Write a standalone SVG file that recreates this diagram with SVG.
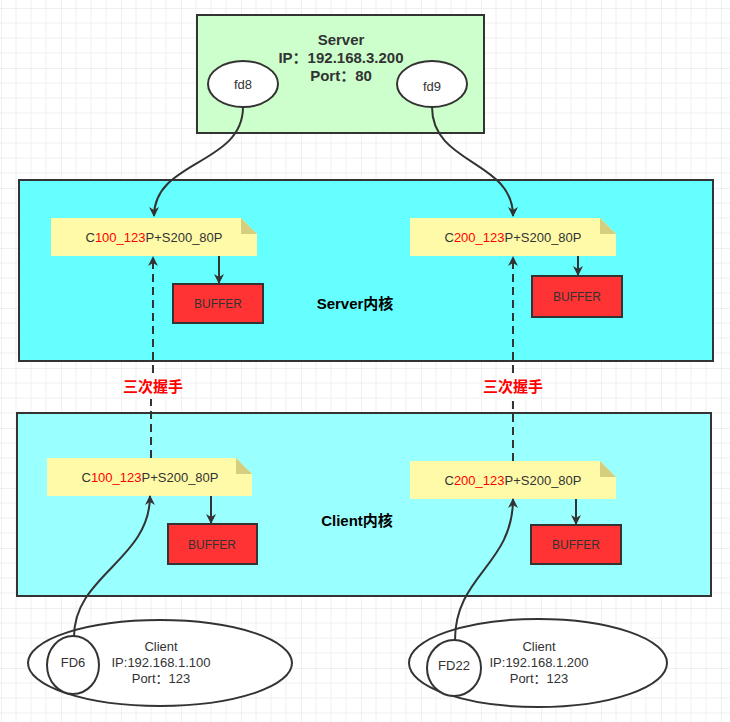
<svg xmlns="http://www.w3.org/2000/svg" width="730" height="722" viewBox="0 0 730 722">
<style>
text{font-family:"Liberation Sans","Noto Sans CJK SC",sans-serif;fill:#333;text-anchor:middle;font-size:13px}
.sv{font-size:15px;font-weight:bold}
.bt{font-size:12px}
.box{stroke:#333;stroke-width:2}
.buf{fill:#FF3333;stroke:#333;stroke-width:2}
.note{fill:#FFFAA8}
.fold{fill:#D4CE7E}
.ell{fill:#fff;stroke:#333;stroke-width:2}
.c{fill:none;stroke:#333;stroke-width:2}
.d{fill:none;stroke:#333;stroke-width:2;stroke-dasharray:8 5}
.r{fill:#FF0000}
.k{font-size:15px;font-weight:bold;fill:#000}
.h{font-size:15px;font-weight:bold;fill:#FF0000}
</style>
<defs>
<pattern id="g" width="60" height="60" patternUnits="userSpaceOnUse" x="1" y="8">
<path d="M15 0V60M30 0V60M45 0V60M0 15H60M0 30H60M0 45H60" stroke="#F0F0F0" stroke-width="1" fill="none"/>
<path d="M0 0V60M0 0H60" stroke="#E2E2E2" stroke-width="1" fill="none"/>
</pattern>
<marker id="a" markerWidth="10" markerHeight="10" refX="9" refY="5" orient="auto" markerUnits="userSpaceOnUse">
<path d="M0,0 L10,5 L0,10 L3,5 Z" fill="#333"/>
</marker>
</defs>
<rect width="730" height="722" fill="#fff"/>
<rect width="730" height="722" fill="url(#g)"/>

<g id="server">
<rect class="box" x="197" y="15" width="287" height="118" fill="#CCFFCC"/>
<text class="sv" x="341" y="45">Server</text>
<text class="sv" x="341" y="63">IP：192.168.3.200</text>
<text class="sv" x="341" y="81">Port：80</text>
</g>
<g id="fd8"><ellipse class="ell" cx="243" cy="84" rx="35" ry="23"/><text x="243" y="89">fd8</text></g>
<g id="fd9"><ellipse class="ell" cx="432" cy="84" rx="35" ry="23"/><text x="432" y="91">fd9</text></g>

<g id="server-kernel">
<rect class="box" x="19" y="180" width="694" height="181" fill="#66FFFF"/>
<text class="k" x="355" y="309">Server内核</text>
</g>
<g id="client-kernel">
<rect class="box" x="17" y="413" width="694" height="183" fill="#99FFFF"/>
<text class="k" x="357" y="526">Client内核</text>
</g>

<g id="snote1">
<path class="note" d="M51,218 H241 L257,234 V256 H51 Z"/><path class="fold" d="M241,218 L257,234 H241 Z"/>
<text x="154" y="242">C<tspan class="r">100_123</tspan>P+S200_80P</text>
</g>
<g id="snote2">
<path class="note" d="M410,218 H600 L616,234 V256 H410 Z"/><path class="fold" d="M600,218 L616,234 H600 Z"/>
<text x="513" y="242">C<tspan class="r">200_123</tspan>P+S200_80P</text>
</g>
<g id="cnote1">
<path class="note" d="M47,458 H236 L252,474 V496 H47 Z"/><path class="fold" d="M236,458 L252,474 H236 Z"/>
<text x="150" y="482">C<tspan class="r">100_123</tspan>P+S200_80P</text>
</g>
<g id="cnote2">
<path class="note" d="M410,461 H600 L616,477 V499 H410 Z"/><path class="fold" d="M600,461 L616,477 H600 Z"/>
<text x="513" y="485">C<tspan class="r">200_123</tspan>P+S200_80P</text>
</g>

<g id="sbuf1"><rect class="buf" x="173" y="284" width="90" height="39"/><text class="bt" x="218" y="308">BUFFER</text></g>
<g id="sbuf2"><rect class="buf" x="532" y="276" width="90" height="41"/><text class="bt" x="577" y="301">BUFFER</text></g>
<g id="cbuf1"><rect class="buf" x="168" y="524" width="89" height="40"/><text class="bt" x="212" y="549">BUFFER</text></g>
<g id="cbuf2"><rect class="buf" x="531" y="525" width="90" height="39"/><text class="bt" x="576" y="549">BUFFER</text></g>

<g id="client1">
<ellipse class="ell" cx="160" cy="663" rx="132" ry="43"/>
<ellipse class="ell" cx="73" cy="665" rx="26" ry="29"/>
<text x="73" y="667">FD6</text>
<text x="161" y="651">Client</text>
<text x="161" y="667">IP:192.168.1.100</text>
<text x="161" y="683">Port：123</text>
</g>
<g id="client2">
<ellipse class="ell" cx="538" cy="663" rx="129" ry="44"/>
<ellipse class="ell" cx="454" cy="668" rx="27" ry="28"/>
<text x="454" y="670">FD22</text>
<text x="539" y="651">Client</text>
<text x="539" y="667">IP:192.168.1.200</text>
<text x="539" y="683">Port：123</text>
</g>

<g id="connectors">
<path class="c" d="M243,107 C243,165 154,160 154,216" marker-end="url(#a)"/>
<path class="c" d="M432,107 C432,165 513,160 513,216" marker-end="url(#a)"/>
<path class="c" d="M74,637 C74,575 150,560 150,496" marker-end="url(#a)"/>
<path class="c" d="M455,640 C455,575 513,565 513,499" marker-end="url(#a)"/>
<path class="c" d="M219,256 V283" marker-end="url(#a)"/>
<path class="c" d="M578,256 V275" marker-end="url(#a)"/>
<path class="c" d="M211,496 V523" marker-end="url(#a)"/>
<path class="c" d="M576,499 V524" marker-end="url(#a)"/>
<path class="d" d="M151,458 L151,399"/>
<path class="d" d="M153,373 L153,257" marker-end="url(#a)"/>
<path class="d" d="M513,461 L513,399"/>
<path class="d" d="M513,373 L513,257" marker-end="url(#a)"/>
<text class="h" x="153" y="392">三次握手</text>
<text class="h" x="513" y="392">三次握手</text>
</g>
</svg>
